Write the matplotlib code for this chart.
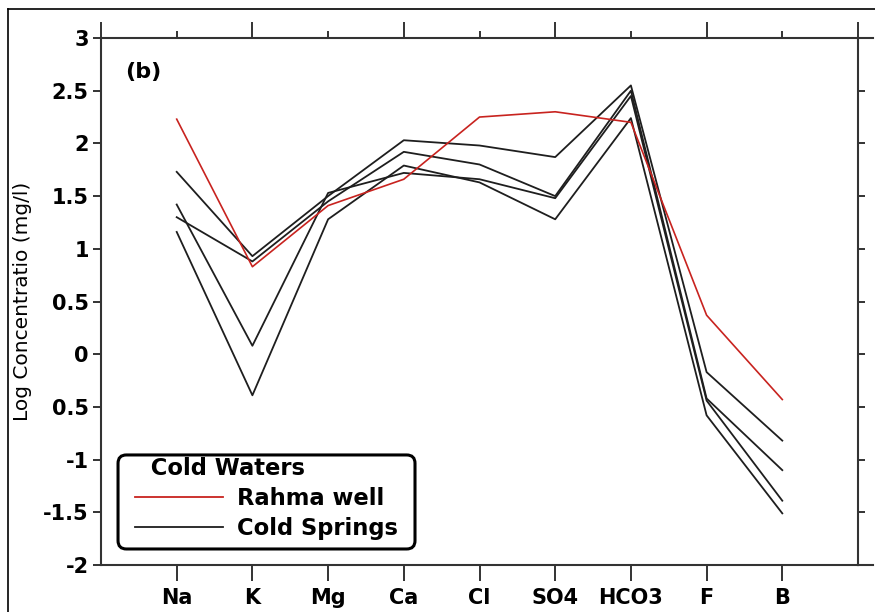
import numpy as np
import matplotlib.pyplot as plt
from matplotlib.lines import Line2D
from matplotlib.patches import FancyBboxPatch

# ions along the x axis
ions = ["Na", "K", "Mg", "Ca", "Cl", "SO4", "HCO3", "F", "B"]

# log concentrations
rahma_well = [2.23, 0.83, 1.41, 1.66, 2.25, 2.30, 2.20, 0.37, -0.43]
spring_a = [1.73, 0.93, 1.50, 2.03, 1.98, 1.87, 2.55, -0.17, -0.82]
spring_b = [1.30, 0.88, 1.45, 1.92, 1.80, 1.50, 2.50, -0.42, -1.10]
spring_c = [1.42, 0.08, 1.53, 1.72, 1.66, 1.48, 2.45, -0.44, -1.39]
spring_d = [1.16, -0.39, 1.28, 1.79, 1.63, 1.28, 2.24, -0.58, -1.51]
cold_springs = [spring_a, spring_b, spring_c, spring_d]

y_ticks = [3, 2.5, 2, 1.5, 1, 0.5, 0, -0.5, -1, -1.5, -2]
y_tick_labels = ["3", "2.5", "2", "1.5", "1", "0.5", "0", "0.5", "-1", "-1.5", "-2"]

red = "#c8231f"
ink = "#1e1e1e"
axis_col = "#333333"
px = 72 / 100  # one pixel in points at dpi 100

fig = plt.figure(figsize=(8.75, 6.12), dpi=100)
ax = fig.add_axes([101 / 875, 47 / 612, 757 / 875, 527 / 612])

x = np.arange(1, len(ions) + 1)

ax.plot(x, rahma_well, color=red, lw=1.2, label="Rahma well", zorder=3)
for i, s in enumerate(cold_springs):
    ax.plot(x, s, color=ink, lw=1.3, label="Cold Springs" if i == 0 else None)

ax.set_xlim(0, 10)
ax.set_ylim(-2, 3)

for sp in ax.spines.values():
    sp.set_linewidth(1.5)
    sp.set_color(axis_col)

ax.set_xticks(x)
ax.set_xticklabels(ions, fontsize=15, fontweight="bold")
ax.tick_params(axis="x", direction="out", length=16 * px, width=1.4, pad=5, color=axis_col)

ax.set_yticks(y_ticks)
ax.set_yticklabels(y_tick_labels, fontsize=15, fontweight="bold")
ax.tick_params(axis="y", direction="out", length=8 * px, width=1.4, pad=3, color=axis_col)

# top axis: long and short ticks, no labels
top = ax.secondary_xaxis("top")
top.set_xticks([0, 2, 4, 6, 8, 10])
top.set_xticks([1, 3, 5, 7, 9], minor=True)
top.tick_params(which="major", direction="out", length=16 * px, width=1.4, labeltop=False, color=axis_col)
top.tick_params(which="minor", direction="out", length=7 * px, width=1.4, color=axis_col)
top.set_xticklabels([])
top.spines["top"].set_visible(False)

right = ax.secondary_yaxis("right")
right.set_yticks(y_ticks)
right.tick_params(direction="out", length=7 * px, width=1.4, labelright=False, color=axis_col)
right.set_yticklabels([])
right.spines["right"].set_visible(False)

# axis lines running past the right edge
ax.plot([1, 1.02], [1, 1], transform=ax.transAxes, color=axis_col, lw=1.5, clip_on=False)
ax.plot([1, 1.02], [0, 0], transform=ax.transAxes, color=axis_col, lw=1.5, clip_on=False)

ax.set_ylabel("Log Concentratio (mg/l)", fontsize=14.5)
ax.yaxis.set_label_coords(-0.091, 0.5)

ax.text(0.032, 0.935, "(b)", transform=ax.transAxes, fontsize=16, fontweight="bold",
        va="center", ha="left")

# legend without its own frame, plus a rounded box drawn around it
leg = ax.legend(loc="upper left", bbox_to_anchor=(0.045, 0.205), title="  Cold Waters",
                prop={"size": 16.3, "weight": "bold"}, title_fontproperties={"size": 16.3, "weight": "bold"},
                alignment="left", handlelength=3.9, handletextpad=0.6, labelspacing=0.3,
                borderpad=0, borderaxespad=0, frameon=False)
for h in leg.get_lines():
    h.set_linewidth(1.3)

box = FancyBboxPatch((0.0225, 0.0304), 0.3923, 0.1784, transform=ax.transAxes,
                     boxstyle="round,pad=0,rounding_size=0.011", mutation_aspect=757 / 527,
                     facecolor="white", edgecolor="black", lw=2.2, zorder=4)
ax.add_patch(box)
leg.set_zorder(5)

# outer frame of the figure
fig.add_artist(Line2D([8 / 875, 8 / 875], [0, 1 - 9 / 612], color="black", lw=1.2))
fig.add_artist(Line2D([8 / 875, 1], [1 - 9 / 612, 1 - 9 / 612], color="black", lw=1.2))

fig.savefig("out.png", dpi=100)
